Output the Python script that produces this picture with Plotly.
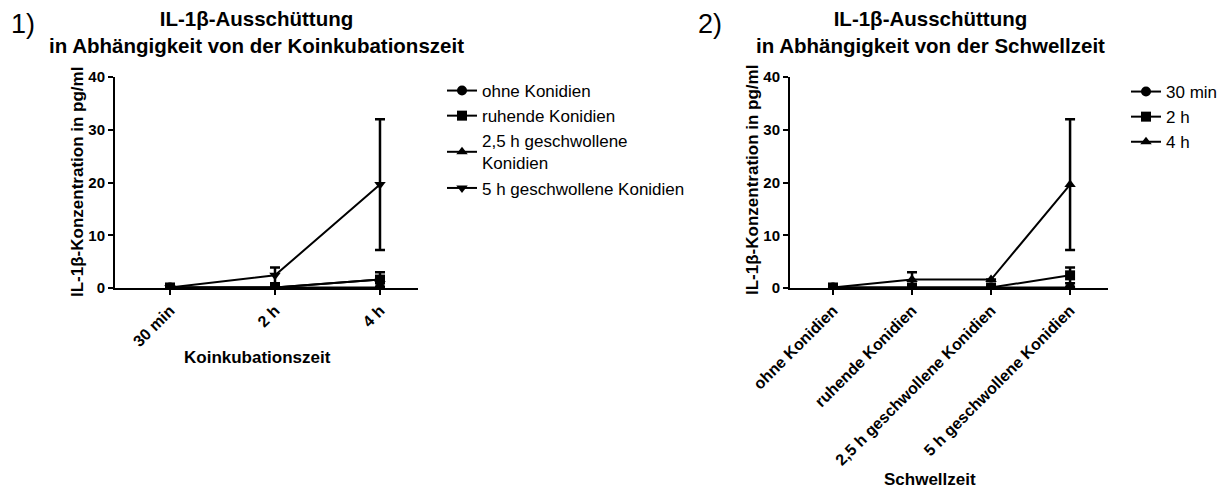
import plotly.graph_objects as go

# ---------- data ----------
left_categories = ["30 min", "2 h", "4 h"]
left_names = ["ohne Konidien", "ruhende Konidien", "2,5 h geschwollene<br>Konidien", "5 h geschwollene Konidien"]
left_ohne = [0.1, 0.1, 0.1]
left_ohne_err = [None, None, None]
left_ruhende = [0.1, 0.1, 1.6]
left_ruhende_err = [None, None, 1.4]
left_g25 = [0.1, 0.1, 1.6]
left_g25_err = [None, None, None]
left_g5 = [0.1, 2.4, 19.6]
left_g5_err = [None, 1.5, 12.4]

right_categories = ["ohne Konidien", "ruhende Konidien", "2,5 h geschwollene Konidien", "5 h geschwollene Konidien"]
right_names = ["30 min", "2 h", "4 h"]
right_30min = [0.1, 0.1, 0.1, 0.1]
right_30min_err = [None, None, None, None]
right_2h = [0.1, 0.1, 0.1, 2.4]
right_2h_err = [None, None, None, 1.5]
right_4h = [0.1, 1.6, 1.6, 19.6]
right_4h_err = [None, 1.4, None, 12.4]

y_ticks = [0, 10, 20, 30, 40]

FONT = "Liberation Sans, Arial, sans-serif"
W, H = 1228, 488

fig = go.Figure()

left_series = [
    (left_names[0], left_ohne, left_ohne_err, "circle"),
    (left_names[1], left_ruhende, left_ruhende_err, "square"),
    (left_names[2], left_g25, left_g25_err, "triangle-up"),
    (left_names[3], left_g5, left_g5_err, "triangle-down"),
]
for name, vals, err, sym in left_series:
    fig.add_trace(go.Scatter(
        x=left_categories, y=vals, name=name, mode="lines+markers",
        line=dict(color="black", width=2),
        marker=dict(color="black", symbol=sym, size=10),
        error_y=dict(type="data", array=err, visible=True, color="black", thickness=2.5, width=5),
        xaxis="x", yaxis="y", legend="legend",
    ))

right_series = [
    (right_names[0], right_30min, right_30min_err, "circle"),
    (right_names[1], right_2h, right_2h_err, "square"),
    (right_names[2], right_4h, right_4h_err, "triangle-up"),
]
for name, vals, err, sym in right_series:
    fig.add_trace(go.Scatter(
        x=right_categories, y=vals, name=name, mode="lines+markers",
        line=dict(color="black", width=2),
        marker=dict(color="black", symbol=sym, size=10),
        error_y=dict(type="data", array=err, visible=True, color="black", thickness=2.5, width=5),
        xaxis="x2", yaxis="y2", legend="legend2",
    ))

def px(x):
    return x / W

def py(y):
    return 1 - y / H

axis_common = dict(
    showgrid=False, zeroline=False, showline=True, linecolor="black", linewidth=2,
    ticks="outside", ticklen=5, tickwidth=2, tickcolor="black", automargin=False,
    tickfont=dict(family=FONT, size=15, color="black", weight="bold"),
)
xtickfont = dict(family=FONT, size=16, color="black", weight="bold")

fig.update_layout(
    width=W, height=H, margin=dict(l=0, r=0, t=0, b=0, autoexpand=False),
    paper_bgcolor="white", plot_bgcolor="white",
    font=dict(family=FONT, color="black"),
    xaxis=dict(domain=[px(115), px(418)], anchor="y", range=[-0.524, 2.362],
               tickangle=-45, **{**axis_common, "tickfont": xtickfont}),
    yaxis=dict(domain=[py(288), py(77)], anchor="x", range=[0, 40], tickvals=y_ticks,
               **axis_common),
    xaxis2=dict(domain=[px(790), px(1108)], anchor="y2", range=[-0.544, 3.48],
                tickangle=-45, **{**axis_common, "tickfont": xtickfont}),
    yaxis2=dict(domain=[py(288), py(77)], anchor="x2", range=[0, 40], tickvals=y_ticks,
                **axis_common),
    legend=dict(x=px(442), y=py(73), xanchor="left", yanchor="top",
                font=dict(family=FONT, size=17, color="black"),
                bgcolor="rgba(0,0,0,0)", tracegroupgap=0, itemwidth=30),
    legend2=dict(x=px(1126), y=py(74), xanchor="left", yanchor="top",
                 font=dict(family=FONT, size=17, color="black"),
                 bgcolor="rgba(0,0,0,0)", tracegroupgap=0, itemwidth=30),
)

annotations = [
    dict(text="1)", x=px(9), y=py(24), xanchor="left", yanchor="middle",
         font=dict(family=FONT, size=27, color="black")),
    dict(text="2)", x=px(696), y=py(24), xanchor="left", yanchor="middle",
         font=dict(family=FONT, size=27, color="black")),
    dict(text="<b>IL-1β-Ausschüttung</b><br><b>in Abhängigkeit von der Koinkubationszeit</b>",
         x=px(256), y=py(5), xanchor="center", yanchor="top",
         font=dict(family=FONT, size=20.5, color="black")),
    dict(text="<b>IL-1β-Ausschüttung</b><br><b>in Abhängigkeit von der Schwellzeit</b>",
         x=px(930), y=py(5), xanchor="center", yanchor="top",
         font=dict(family=FONT, size=20.5, color="black")),
    dict(text="<b>IL-1β-Konzentration in pg/ml</b>", x=px(77), y=py(182), textangle=-90,
         xanchor="center", yanchor="middle", font=dict(family=FONT, size=17, color="black")),
    dict(text="<b>IL-1β-Konzentration in pg/ml</b>", x=px(752), y=py(180), textangle=-90,
         xanchor="center", yanchor="middle", font=dict(family=FONT, size=17, color="black")),
    dict(text="<b>Koinkubationszeit</b>", x=px(257), y=py(357), xanchor="center", yanchor="middle",
         font=dict(family=FONT, size=17, color="black")),
    dict(text="<b>Schwellzeit</b>", x=px(930), y=py(479), xanchor="center", yanchor="middle",
         font=dict(family=FONT, size=17, color="black")),
]
for a in annotations:
    a.update(xref="paper", yref="paper", showarrow=False)
fig.update_layout(annotations=annotations)

fig.write_html("out.html")
